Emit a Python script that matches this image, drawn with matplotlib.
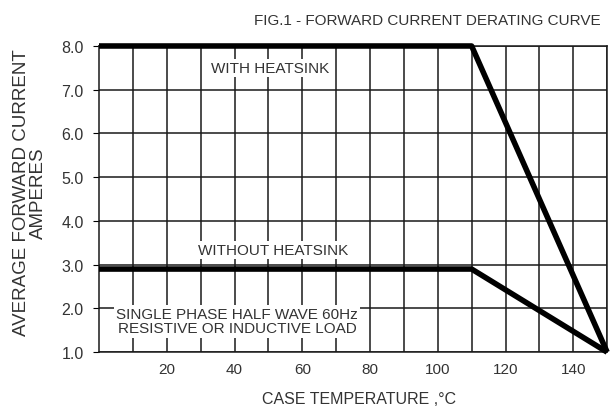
import matplotlib

matplotlib.use("Agg")
import matplotlib.pyplot as plt

# Derating curves: case temperature (°C) -> average forward current (A)
temp_with_hs = [0, 110, 150]
amps_with_hs = [8.0, 8.0, 1.0]
temp_without_hs = [0, 110, 150]
amps_without_hs = [2.9, 2.9, 1.0]

x_ticks = [20, 40, 60, 80, 100, 120, 140]
y_ticks = [1.0, 2.0, 3.0, 4.0, 5.0, 6.0, 7.0, 8.0]

TEXT = "#333333"
plt.rcParams["font.family"] = ["Liberation Sans", "DejaVu Sans"]

fig = plt.figure(figsize=(6.1, 4.14), dpi=100)
ax = fig.add_axes([0.1623, 0.147, 0.833, 0.7395])

ax.set_xlim(0, 150)
ax.set_ylim(1.0, 8.0)
ax.set_xticks(x_ticks)
ax.set_xticks(range(10, 151, 10), minor=True)
ax.set_yticks(y_ticks)
ax.set_yticklabels([f"{v:.1f}" for v in y_ticks])
ax.grid(True, which="both", color="#1a1a1a", linewidth=1.1)
ax.set_axisbelow(True)
ax.tick_params(axis="x", which="both", length=0, labelsize=11, labelcolor=TEXT, pad=7)
ax.tick_params(axis="y", length=4, width=0.8, labelsize=11.5, labelcolor=TEXT, pad=7)
for spine in ax.spines.values():
    spine.set_color("#1a1a1a")
    spine.set_linewidth(1.1)

ax.plot(temp_with_hs, amps_with_hs, color="black", linewidth=4, solid_capstyle="butt", clip_on=False, zorder=3)
ax.plot(temp_without_hs, amps_without_hs, color="black", linewidth=4, solid_capstyle="butt", clip_on=False, zorder=3)

box = dict(facecolor="white", edgecolor="none", pad=1.5)
ax.text(50.5, 7.5, "WITH HEATSINK", ha="center", va="center", fontsize=11, color=TEXT, bbox=box, zorder=4)
ax.text(51.3, 3.33, "WITHOUT HEATSINK", ha="center", va="center", fontsize=11, color=TEXT, bbox=box, zorder=4)
ax.text(40.7, 1.71, "SINGLE PHASE HALF WAVE 60Hz\nRESISTIVE OR INDUCTIVE LOAD", ha="center", va="center",
        fontsize=11, color=TEXT, linespacing=1.05, bbox=box, zorder=4)

fig.text(0.70, 0.949, "FIG.1 - FORWARD CURRENT DERATING CURVE", ha="center", va="center", fontsize=11, color=TEXT)
fig.text(0.588, 0.035, "CASE TEMPERATURE ,°C", ha="center", va="center", fontsize=11.5, color=TEXT)
fig.text(0.049, 0.534, "AVERAGE FORWARD CURRENT\nAMPERES", rotation=90, ha="center", va="center",
         fontsize=13.5, color=TEXT, linespacing=1.0)

fig.savefig("out.png", dpi=100)
